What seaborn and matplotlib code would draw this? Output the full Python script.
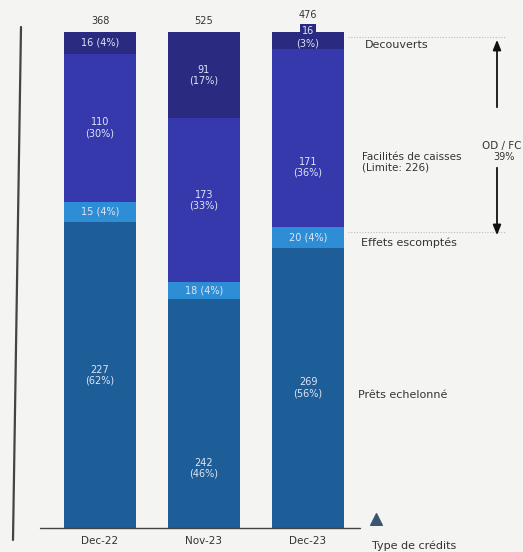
import matplotlib
matplotlib.use("Agg")
import matplotlib.pyplot as plt
import seaborn as sns
import numpy as np
import pandas as pd

# ---- data ----
periods = ["Dec-22", "Nov-23", "Dec-23"]
totals = [368, 525, 476]
series_names = ["Prêts echelonné", "Effets escomptés", "Facilités de caisses", "Decouverts"]
prets = [227, 242, 269]
effets = [15, 18, 20]
facilites = [110, 173, 171]
decouverts = [16, 91, 16]
pct_prets = [62, 46, 56]
pct_effets = [4, 4, 4]
pct_facilites = [30, 33, 36]
pct_decouverts = [4, 17, 3]
od_fc_share = "39%"
facilites_limit = 226

sns.set_theme(style="white")
plt.rcParams["font.family"] = ["DejaVu Sans"]

W, H = 523, 552
fig = plt.figure(figsize=(W / 100, H / 100), dpi=100)
bg = "#f4f4f2"
fig.patch.set_facecolor(bg)
ax = fig.add_axes([0, 0, 1, 1])
ax.set_facecolor(bg)

# pixel -> data helpers (for decorations)
X0, DX = 100.0, 104.0
Y0, DY = 528.0, 496.0
def px(x):
    return (x - X0) / DX
def py(y):
    return (Y0 - y) / DY * 100.0

colors = {"Prêts echelonné": "#1e5e98",
          "Effets escomptés": "#2d8ed6",
          "Facilités de caisses": "#3639ab",
          "Decouverts": "#2a2a80"}

vals = {"Prêts echelonné": prets, "Effets escomptés": effets,
        "Facilités de caisses": facilites, "Decouverts": decouverts}
pcts = {"Prêts echelonné": pct_prets, "Effets escomptés": pct_effets,
        "Facilités de caisses": pct_facilites, "Decouverts": pct_decouverts}

rows = []
for name in series_names:
    for i, p in enumerate(periods):
        rows.append({"period": p, "series": name, "value": vals[name][i],
                     "share": vals[name][i] / sum(vals[s][i] for s in series_names) * 100})
df = pd.DataFrame(rows)

bottom = np.zeros(len(periods))
seg_pos = {}
for name in series_names:
    sub = df[df.series == name].set_index("period").loc[periods].reset_index()
    sns.barplot(data=sub, x="period", y="share", color=colors[name], width=0.7,
                bottom=bottom, ax=ax, saturation=1, order=periods, linewidth=0)
    seg_pos[name] = (bottom.copy(), sub["share"].values)
    bottom = bottom + sub["share"].values

ax.set_xlim(px(0), px(W))
ax.set_ylim(py(H), py(0))
ax.axis("off")

txt_c = "#dfe5f5"
fs = 7
# label offsets (in % units) for a couple of segments
offsets = {("Prêts echelonné", 1): -11, ("Facilités de caisses", 2): -6}
for name in series_names:
    b, h = seg_pos[name]
    for i in range(len(periods)):
        v, pc = vals[name][i], pcts[name][i]
        ymid = b[i] + h[i] / 2 + offsets.get((name, i), 0)
        if name == "Effets escomptés" or (name == "Decouverts" and i == 0):
            ax.text(i, ymid, f"{v} ({pc}%)", ha="center", va="center",
                    color=txt_c, fontsize=fs)
        elif name == "Decouverts" and i == 2:
            ax.text(i, b[i] + h[i] + 0.3, f"{v}", ha="center", va="center",
                    color=txt_c, fontsize=fs,
                    bbox=dict(boxstyle="square,pad=0.15", fc=colors[name], ec="none"))
            ax.text(i, b[i] + h[i] - 2.3, f"({pc}%)", ha="center", va="center",
                    color=txt_c, fontsize=fs)
        else:
            ax.text(i, ymid, f"{v}\n({pc}%)", ha="center", va="center",
                    color=txt_c, fontsize=fs, linespacing=1.1)

# totals above bars
for i, t in enumerate(totals):
    ax.text(i, 100 + 1.2 + (1.2 if i == 2 else 0), f"{t}", ha="center", va="bottom",
            color="#333333", fontsize=fs)

# axes lines
ax.plot([px(21), px(13)], [py(27), py(540)], color="#444444", lw=1.6)
ax.plot([px(40), px(360)], [0, 0], color="#444444", lw=1.0)
for i, p in enumerate(periods):
    ax.text(i, py(541), p, ha="center", va="center", fontsize=fs + 0.5, color="#333333")

# series labels on right
lab_c = "#333333"
lfs = 8
ax.text(px(365), py(45), "Decouverts", ha="left", va="center", fontsize=lfs, color=lab_c)
ax.text(px(362), py(162), f"Facilités de caisses\n(Limite: {facilites_limit})", ha="left",
        va="center", fontsize=lfs - 0.5, color=lab_c, linespacing=1.1)
ax.text(px(361), py(243), "Effets escomptés", ha="left", va="center", fontsize=lfs, color=lab_c)
ax.text(px(358), py(395), "Prêts echelonné", ha="left", va="center", fontsize=lfs, color=lab_c)

# dotted guides and arrows
ax.plot([px(348), px(505)], [py(37), py(37)], color="#bbbbbb", lw=0.8, ls=(0, (1, 1.5)))
ax.plot([px(348), px(505)], [py(232), py(232)], color="#bbbbbb", lw=0.8, ls=(0, (1, 1.5)))
ax.annotate("", xy=(px(497), py(37)), xytext=(px(497), py(110)),
            arrowprops=dict(arrowstyle="-|>,head_width=0.2,head_length=0.5", color="#111111", lw=1.3))
ax.annotate("", xy=(px(497), py(238)), xytext=(px(497), py(165)),
            arrowprops=dict(arrowstyle="-|>,head_width=0.2,head_length=0.5", color="#111111", lw=1.3))
ax.text(px(521), py(146), "OD / FC", ha="right", va="center", fontsize=lfs - 0.5, color=lab_c)
ax.text(px(504), py(157), od_fc_share, ha="center", va="center", fontsize=lfs - 1, color=lab_c)

# triangle + axis caption
ax.scatter([px(376)], [py(519)], marker="^", s=70, color="#3c566f", zorder=5)
ax.text(px(372), py(546), "Type de crédits", ha="left", va="center", fontsize=lfs, color=lab_c)

fig.savefig("out.png", dpi=100, facecolor=bg)
